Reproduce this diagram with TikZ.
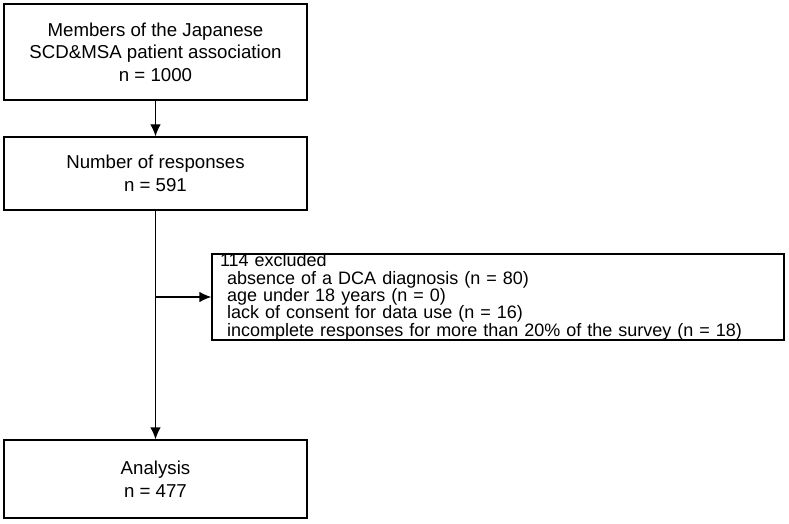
\documentclass[tikz,border=0pt]{standalone}
\usepackage{fontspec}
\setmainfont{Liberation Sans}
\usetikzlibrary{arrows.meta}

\begin{document}
\begin{tikzpicture}[x=0.75pt,y=-0.75pt,
    box/.style={draw, line width=1pt, rectangle, inner sep=0pt, minimum width=303*0.75pt, align=center, font=\fontsize{14}{17}\selectfont},
    arr/.style={line width=1pt, -{Latex[length=9pt,width=8pt]}}]
    \useasboundingbox (0,0) rectangle (789,524);
    % main column
    \node[box, minimum height=96*0.75pt] (members) at (155.5,52) {Members of the Japanese\\SCD\&MSA patient association\\n = 1000};
    \node[box, minimum height=73*0.75pt] (responses) at (155.5,173.5) {Number of responses\\n = 591};
    \node[box, minimum height=78*0.75pt] (analysis) at (155.5,479) {Analysis\\n = 477};

    % excluded
    \node[box, minimum width=572*0.75pt, minimum height=86*0.75pt, align=left, text width=556*0.75pt,
          font=\fontsize{13.5}{13}\selectfont] (excluded) at (498,297)
        {114 excluded\\
        \hspace*{0.4em}absence of a DCA diagnosis (n = 80)\\
        \hspace*{0.4em}age under 18 years (n = 0)\\
        \hspace*{0.4em}lack of consent for data use (n = 16)\\
        \hspace*{0.4em}incomplete responses for more than 20\% of the survey (n = 18)};

    \coordinate (branch) at (155.5,297);
    \draw[arr] (members) -- (responses);
    \draw[arr] (responses) -- (analysis);
    \draw[arr] (branch) -- (excluded);
\end{tikzpicture}
\end{document}
